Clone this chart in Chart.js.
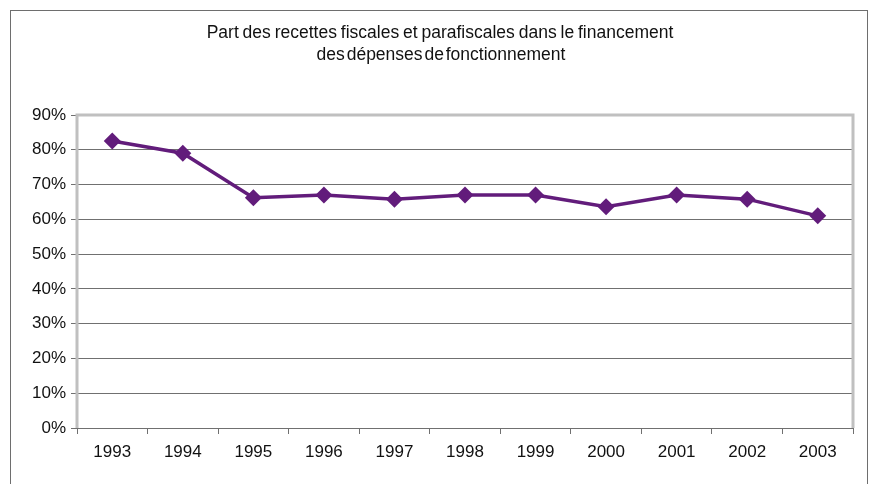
<!DOCTYPE html>
<html>
<head>
<meta charset="utf-8">
<script src="https://cdn.jsdelivr.net/npm/chart.js@4.4.0/dist/chart.umd.min.js"></script>
<style>
  html, body { margin:0; padding:0; background:#fff; }
  #wrap { width:873px; height:484px; }
</style>
</head>
<body>
<div id="wrap"><canvas id="c" width="873" height="484"></canvas></div>
<script>
// données
const annees = ['1993','1994','1995','1996','1997','1998','1999','2000','2001','2002','2003'];
const partRecettes = [82.5, 79, 66.2, 67, 65.8, 67, 67, 63.6, 67, 65.8, 61];
const titreLignes = ['Part des recettes fiscales et parafiscales dans le financement', 'des dépenses de fonctionnement'];

const violet = '#621c7b';
const police = '"Liberation Sans", Arial, sans-serif';

// cadre extérieur + bord gris clair de la zone de tracé + titre
const decor = {
  id: 'decor',
  beforeDraw(chart) {
    const ctx = chart.ctx;
    ctx.save();
    ctx.fillStyle = '#fff';
    ctx.fillRect(0, 0, chart.width, chart.height);
    ctx.strokeStyle = '#6e6e6e';
    ctx.lineWidth = 1;
    ctx.strokeRect(10.5, 10.5, 857, 500);
    ctx.restore();
  },
  beforeDatasetsDraw(chart) {
    const { ctx, chartArea: a } = chart;
    ctx.save();
    ctx.strokeStyle = '#c0c0c0';
    ctx.lineWidth = 3;
    ctx.beginPath();
    ctx.moveTo(a.left, a.bottom);
    ctx.lineTo(a.left, a.top);
    ctx.lineTo(a.right, a.top);
    ctx.lineTo(a.right, a.bottom);
    ctx.stroke();
    ctx.restore();
  },
  afterDraw(chart) {
    const ctx = chart.ctx;
    ctx.save();
    ctx.fillStyle = '#111';
    ctx.font = '17.5px ' + police;
    ctx.textAlign = 'center';
    ctx.textBaseline = 'middle';
    ctx.wordSpacing = '-1px';
    ctx.fillText(titreLignes[0], 440, 33);
    ctx.wordSpacing = '-3px';
    ctx.fillText(titreLignes[1], 441, 55);
    ctx.restore();
  }
};

new Chart(document.getElementById('c').getContext('2d'), {
  type: 'line',
  data: {
    labels: annees,
    datasets: [{
      data: partRecettes,
      borderColor: violet,
      backgroundColor: violet,
      borderWidth: 3.5,
      pointStyle: 'rectRot',
      pointRadius: 8.5,
      pointBorderWidth: 0,
      pointBackgroundColor: violet,
      tension: 0
    }]
  },
  options: {
    responsive: false,
    animation: false,
    layout: { padding: { top: 115, right: 20, left: 0, bottom: 0 } },
    plugins: { legend: { display: false }, tooltip: { enabled: false } },
    scales: {
      x: {
        offset: true,
        grid: { offset: true, drawOnChartArea: false, drawTicks: true, tickLength: 6, color: '#707070' },
        border: { color: '#707070', width: 1 },
        ticks: { color: '#111', padding: 8, font: { family: police, size: 17 } },
        afterFit: s => { s.height = 56; }
      },
      y: {
        min: 0, max: 90,
        ticks: { stepSize: 10, color: '#111', padding: 5, callback: v => v + '%', font: { family: police, size: 17 } },
        grid: {
          color: c => (c.tick && c.tick.value === 90) ? 'rgba(0,0,0,0)' : '#707070',
          tickColor: '#707070', tickLength: 6, lineWidth: 1
        },
        border: { display: false },
        afterFit: s => { s.width = 77; }
      }
    }
  },
  plugins: [decor]
});
</script>
</body>
</html>
